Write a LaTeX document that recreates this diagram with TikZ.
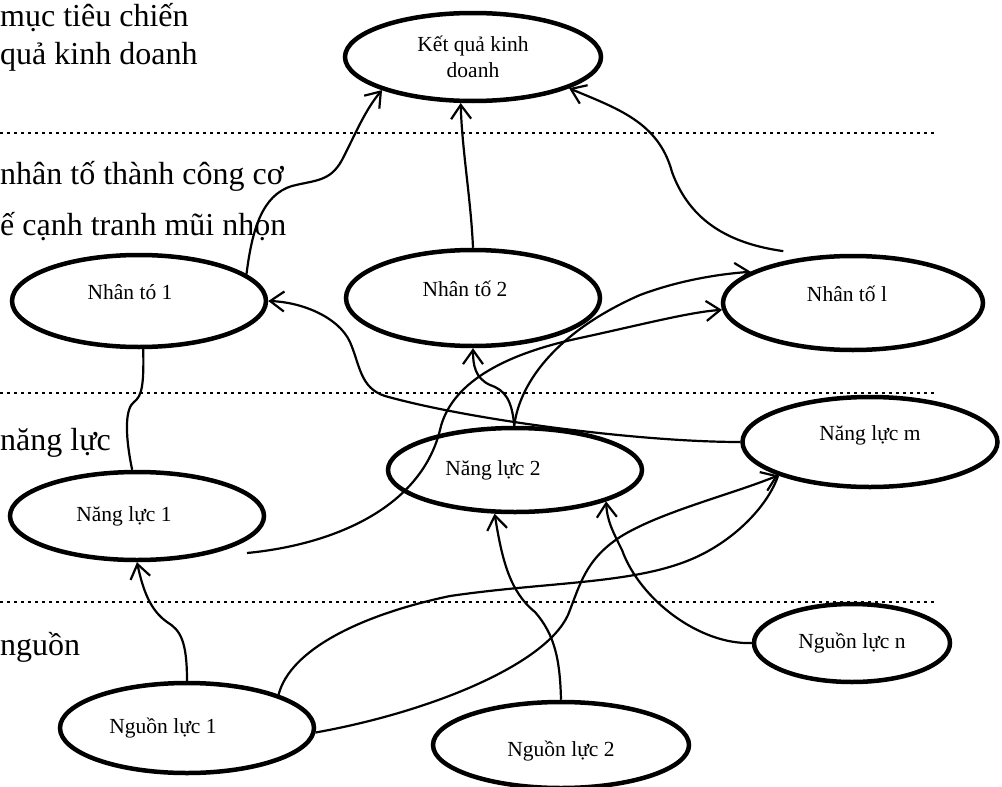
\documentclass[tikz,border=0pt]{standalone}
\usepackage{fontspec}
\setmainfont{Liberation Serif}
\usetikzlibrary{arrows.meta,shapes.geometric}
\newcommand\shiftleft[2]{\hspace*{-#1}#2\hspace*{#1}}
\begin{document}
\begin{tikzpicture}[x=1pt,y=-1pt,
  oval/.style={draw,ellipse,line width=4.5pt,inner sep=0pt,font=\fontsize{21.5}{26}\selectfont,align=center},
  raise/.style={text depth=18pt},
  lower/.style={text height=28pt},
  conn/.style={line width=2.2pt},
  arr/.style={conn,-{Straight Barb[length=14pt,width=20pt,line width=2.2pt]}},
  sep/.style={line width=2.5pt,dash pattern=on 2.5pt off 4.5pt},
  side/.style={anchor=base west,inner sep=0pt,font=\fontsize{32}{38}\selectfont}]
\useasboundingbox (0,0) rectangle (1002,787);

% side texts
\node[side] (s1) at (0,27) {mục tiêu chiến};
\node[side] (s2) at (0,64) {quả kinh doanh};
\node[side] (s3) at (0,184) {nhân tố thành công cơ};
\node[side] (s4) at (0,235) {ế cạnh tranh mũi nhọn};
\node[side] (s5) at (0,450) {năng lực};
\node[side] (s6) at (0,655) {nguồn};

% separators
\draw[sep] (0,133) -- (937,133);
\draw[sep] (0,393) -- (937,393);
\draw[sep] (0,602) -- (937,602);

% nodes
\node[oval,minimum width=256pt,minimum height=88pt] (kq) at (473,57) {Kết quả kinh\\doanh};
\node[oval,raise,minimum width=254pt,minimum height=92pt] (nt1) at (139,301) {\shiftleft{9pt}{Nhân tó 1}};
\node[oval,raise,minimum width=254pt,minimum height=96pt] (nt2) at (473,298) {\shiftleft{8pt}{Nhân tố 2}};
\node[oval,raise,minimum width=260pt,minimum height=94pt] (ntl) at (853,303) {\shiftleft{6pt}{Nhân tố l}};
\node[oval,minimum width=254pt,minimum height=88pt] (nl1) at (137,516) {\shiftleft{13pt}{Năng lực 1}};
\node[oval,minimum width=254pt,minimum height=84pt] (nl2) at (515,470) {\shiftleft{22pt}{Năng lực 2}};
\node[oval,raise,minimum width=255pt,minimum height=90pt] (nlm) at (870,442) {Năng lực m};
\node[oval,minimum width=254pt,minimum height=90pt] (ng1) at (187,728) {\shiftleft{24pt}{Nguồn lực 1}};
\node[oval,lower,minimum width=256pt,minimum height=86pt] (ng2) at (561,745) {Nguồn lực 2};
\node[oval,minimum width=196pt,minimum height=78pt] (ngn) at (852,643) {Nguồn lực n};

\coordinate (nl1out) at (247,553);
\coordinate (ntlin) at ([yshift=10pt]ntl.149);

% connectors to Ket qua
\draw[arr] (nt1.14) .. controls (252,230) and (262,195) .. (292,186) .. controls (315,180) and (330,182) .. (342,160) .. controls (355,135) and (365,110) .. (kq.200);
\draw[arr] (nt2.90) .. controls (471,200) and (462,150) .. (kq.255);
\draw[arr] (ntlin) to[out=172,in=290] (672,172) to[out=105,in=337] (kq.342);

% nang luc -> nhan to
\draw[conn] (nl1.96) .. controls (124,430) and (126,408) .. (134,402) .. controls (142,396) and (144,385) .. (nt1.275);
\draw[arr] (nlm.180) .. controls (640,442) and (470,420) .. (385,396) .. controls (360,388) and (360,365) .. (350,342) .. controls (338,316) and (300,302) .. (nt1.0);
\draw[arr] (nl2.91) .. controls (512,400) and (505,390) .. (490,385) .. controls (475,378) and (473,365) .. (nt2.270);
\draw[arr] (nl2.91) .. controls (520,380) and (560,330) .. (640,295) .. controls (680,280) and (720,274) .. (ntl.163);
\draw[arr] (nl1out) .. controls (330,545) and (420,510) .. (440,430) .. controls (450,385) and (500,355) .. (580,338) .. controls (640,325) and (690,312) .. (ntl.183);

% nguon luc -> nang luc
\draw[arr] (ng1.90) .. controls (187,640) and (180,630) .. (167,622) .. controls (150,610) and (143,590) .. (nl1.270);
\draw[arr] (ng2.90) .. controls (560,660) and (555,635) .. (535,612) .. controls (510,592) and (502,560) .. (nl2.245);
\draw[arr] (ngn.180) .. controls (700,645) and (640,600) .. (622,550) .. controls (612,530) and (607,520) .. (nl2.-19);
\draw[conn] (ng1.20) .. controls (290,650) and (360,615) .. (450,596) .. controls (560,580) and (650,585) .. (710,550) .. controls (745,530) and (770,500) .. (nlm.200);
\draw[arr] (ng1.-2) .. controls (430,712) and (545,665) .. (568,615) .. controls (580,585) and (585,560) .. (620,537) .. controls (660,512) and (730,495) .. (nlm.200);
\end{tikzpicture}
\end{document}
